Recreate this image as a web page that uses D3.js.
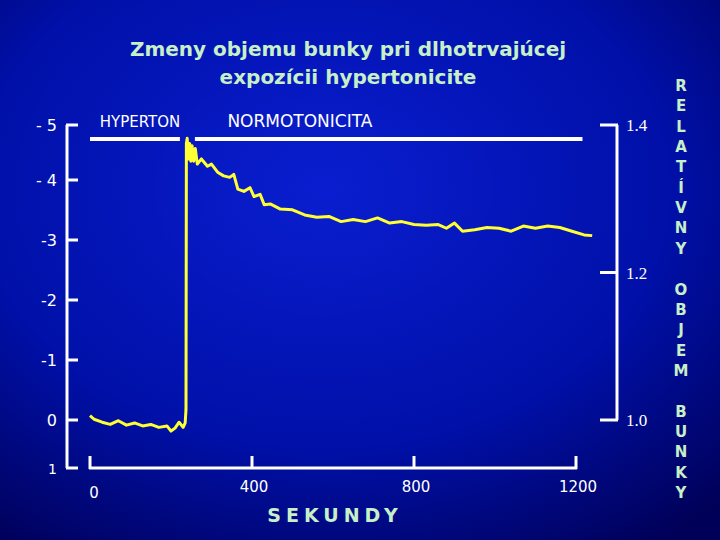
<!DOCTYPE html>
<html><head><meta charset="utf-8">
<script src="https://cdn.jsdelivr.net/npm/d3@7"></script>
<style>body{margin:0;background:#000070}svg{display:block}</style>
</head><body>
<svg width="720" height="540"></svg>
<script>
var svg = d3.select("svg");

var times = [0,10,30,50,70,90,110,130,150,170,190,200,210,220,230,235,237,238,240,243,246,249,252,256,260,265,275,290,300,315,330,345,355,365,380,395,405,420,430,445,470,500,530,560,590,620,650,680,710,740,770,800,830,860,880,900,920,950,980,1010,1040,1070,1100,1130,1160,1190,1220,1240];
var volume = [1.006,1.001,0.997,0.994,0.999,0.993,0.996,0.992,0.994,0.990,0.992,0.985,0.989,0.997,0.990,0.996,1.014,1.375,1.382,1.354,1.375,1.351,1.372,1.351,1.368,1.347,1.354,1.344,1.347,1.336,1.331,1.329,1.333,1.313,1.310,1.315,1.303,1.306,1.292,1.293,1.286,1.285,1.278,1.275,1.276,1.269,1.272,1.269,1.274,1.267,1.269,1.265,1.264,1.265,1.260,1.267,1.256,1.258,1.261,1.260,1.256,1.263,1.260,1.263,1.261,1.256,1.251,1.250];
var xTicks = [0,400,800,1200];
var leftTicks = [-5,-4,-3,-2,-1,0,1];
var leftLabels = ["- 5","- 4","-3","-2","-1","0","1"];
var rightTicks = [1.0,1.2,1.4];
var phases = [{name:"HYPERTON", from:0, to:222}, {name:"NORMOTONICITA", from:259, to:1216}];
var title = ["Zmeny objemu bunky pri dlhotrvajúcej", "expozícii hypertonicite"];
var sideLabel = "RELATÍVNY OBJEM BUNKY";

// background
var defs = svg.append("defs");
var lg = defs.append("radialGradient").attr("id","bg").attr("cx","45%").attr("cy","35%").attr("r","80%");
lg.append("stop").attr("offset","0%").attr("stop-color","#0a1ed0");
lg.append("stop").attr("offset","60%").attr("stop-color","#0010a8");
lg.append("stop").attr("offset","100%").attr("stop-color","#000058");
svg.append("rect").attr("width",720).attr("height",540).attr("fill","url(#bg)");

var x = d3.scaleLinear().domain([0,1200]).range([90,576]);
var yL = d3.scaleLinear().domain([-5,-4,0,1]).range([125,180,420,468]);
var yR = d3.scaleLinear().domain([1.0,1.4]).range([420,125]);

var white = "#ffffff";
// title
svg.append("g").selectAll("text").data(title).join("text")
    .attr("x",348).attr("y",(d,i)=>56+i*28).attr("text-anchor","middle")
    .attr("fill","#c8f0c8").attr("font-family","DejaVu Sans").attr("font-weight","bold")
    .attr("font-size",20).text(d=>d);

// left axis
var left = svg.append("g");
left.append("line").attr("x1",67).attr("x2",67).attr("y1",yL(-5)).attr("y2",yL(1))
    .attr("stroke",white).attr("stroke-width",3);
left.selectAll(".t").data(leftTicks).join("line")
    .attr("x1",66).attr("x2",78).attr("y1",d=>yL(d)).attr("y2",d=>yL(d))
    .attr("stroke",white).attr("stroke-width",3);
left.selectAll("text").data(leftTicks).join("text")
    .attr("x",57).attr("y",d=>yL(d)+6).attr("text-anchor","end")
    .attr("fill",white).attr("font-family","DejaVu Sans").attr("font-size",(d,i)=>i==6?14:16)
    .text((d,i)=>leftLabels[i]);

// bottom axis
var bot = svg.append("g");
bot.append("line").attr("x1",x(0)-1).attr("x2",x(1200)+1).attr("y1",468).attr("y2",468)
    .attr("stroke",white).attr("stroke-width",3);
bot.selectAll(".t").data(xTicks).join("line")
    .attr("x1",d=>x(d)).attr("x2",d=>x(d)).attr("y1",469).attr("y2",456)
    .attr("stroke",white).attr("stroke-width",3);
bot.selectAll("text").data(xTicks).join("text")
    .attr("x",d=>d==0?x(d)+4:x(d)+2).attr("y",d=>d==0?498:492).attr("text-anchor","middle")
    .attr("fill",white).attr("font-family","DejaVu Sans").attr("font-size",15).text(d=>d);
svg.append("text").attr("x",335).attr("y",522).attr("text-anchor","middle")
    .attr("fill","#c8f0c8").attr("font-family","DejaVu Sans").attr("font-weight","bold")
    .attr("font-size",19).attr("letter-spacing",5).text("SEKUNDY");

// right axis
var right = svg.append("g");
right.append("line").attr("x1",617).attr("x2",617).attr("y1",yR(1.4)).attr("y2",yR(1.0))
    .attr("stroke",white).attr("stroke-width",3);
right.selectAll(".t").data(rightTicks).join("line")
    .attr("x1",600).attr("x2",618).attr("y1",d=>yR(d)).attr("y2",d=>yR(d))
    .attr("stroke",white).attr("stroke-width",3);
right.selectAll("text").data(rightTicks).join("text")
    .attr("x",626).attr("y",d=>yR(d)+6)
    .attr("fill",white).attr("font-family","Liberation Serif").attr("font-size",17)
    .text(d=>d.toFixed(1));

// side label
svg.append("g").selectAll("text").data(sideLabel.split("")).join("text")
    .attr("x",681).attr("y",(d,i)=>91+i*20.35).attr("text-anchor","middle")
    .attr("fill","#c8f0c8").attr("font-family","DejaVu Sans").attr("font-weight","bold")
    .attr("font-size",15).text(d=>d);

// phase bars
var ph = svg.append("g").selectAll("g").data(phases).join("g");
ph.append("line").attr("x1",d=>x(d.from)).attr("x2",d=>x(d.to)).attr("y1",139).attr("y2",139)
    .attr("stroke",white).attr("stroke-width",4);
ph.append("text").attr("x",(d,i)=>i==0?x(d.from)+50:x(d.from)+105).attr("y",127)
    .attr("text-anchor","middle").attr("fill",white).attr("font-family","DejaVu Sans")
    .attr("font-size",(d,i)=>i==0?15:17).text(d=>d.name);

// data line
var line = d3.line().x((d,i)=>x(times[i])).y(d=>yR(d));
svg.append("path").attr("d",line(volume)).attr("fill","none")
    .attr("stroke","#ffff33").attr("stroke-width",3).attr("stroke-linejoin","round");
</script>
</body></html>
